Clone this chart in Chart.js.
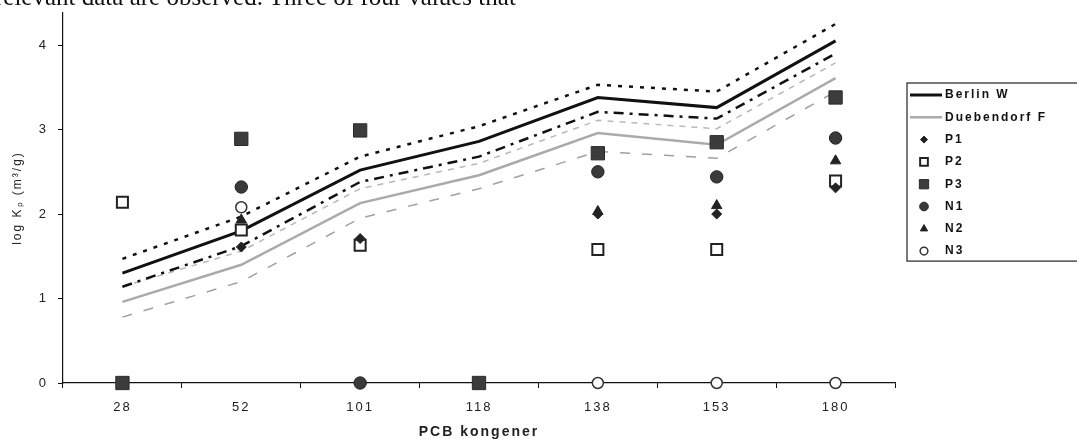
<!DOCTYPE html>
<html>
<head>
<meta charset="utf-8">
<script src="https://cdn.jsdelivr.net/npm/chart.js@4.4.1/dist/chart.umd.min.js"></script>
<style>
  html, body { margin: 0; padding: 0; background: #fff; overflow: hidden; }
  #wrap { position: relative; width: 1077px; height: 439px; }
  #caption { position: absolute; left: -5px; top: -16px; font: 25px 'Liberation Serif', serif; line-height: 25px; white-space: nowrap; color: #111; z-index: 2; }
  canvas { position: absolute; left: 0; top: 0; }
</style>
</head>
<body>
<div id="wrap">
  <div id="caption">relevant data are observed. Three of four values that</div>
  <canvas id="chart" width="1077" height="439"></canvas>
</div>
<script>
// PCB congeners on the x axis
const congeners = ['28', '52', '101', '118', '138', '153', '180'];

// model lines (log Kp) with their upper / lower bands
const berlinW      = [1.30, 1.80, 2.52, 2.86, 3.38, 3.26, 4.05];
const berlinUpper  = [1.47, 1.97, 2.68, 3.04, 3.53, 3.45, 4.25];
const berlinLower  = [1.14, 1.62, 2.38, 2.68, 3.21, 3.13, 3.90];
const duebendorfF  = [0.96, 1.40, 2.13, 2.46, 2.96, 2.82, 3.61];
const duebUpper    = [1.14, 1.56, 2.30, 2.60, 3.11, 3.01, 3.79];
const duebLower    = [0.78, 1.20, 1.95, 2.30, 2.74, 2.66, 3.45];

// measured values
const p1 = [null, 1.61, 1.71, null, 2.00, 2.00, 2.31];
const p2 = [2.14, 1.81, 1.63, null, 1.58, 1.58, 2.39];
const p3 = [0, 2.89, 2.99, 0, 2.72, 2.85, 3.38];
const n1 = [null, 2.32, 0, null, 2.50, 2.44, 2.90];
const n2 = [null, 1.93, null, null, 2.03, 2.10, 2.63];
const n3 = [null, 2.08, null, null, 0, 0, 0];

const yTicks = [0, 1, 2, 3, 4];
const legendNames = ['Berlin W', 'Duebendorf F', 'P1', 'P2', 'P3', 'N1', 'N2', 'N3'];

const font = 'Liberation Sans';

function lineSet(label, data, color, width, dash) {
    return {
        label: label, data: data, borderColor: color, borderWidth: width,
        borderDash: dash || [], pointRadius: 0, fill: false, tension: 0, order: 1
    };
}

function pointSet(label, data, style, radius, fill, border, bw) {
    return {
        label: label, data: data, showLine: false, pointStyle: style,
        pointRadius: radius, pointBackgroundColor: fill, pointBorderColor: border,
        pointBorderWidth: bw, clip: false, order: 0
    };
}

// the old figure has wide, spaced-out lettering
const wideText = {
    id: 'wideText',
    beforeUpdate(chart) { chart.ctx.letterSpacing = '2px'; },
    beforeDraw(chart) { chart.ctx.letterSpacing = '2px'; }
};

// boxed legend on the right, like the original figure
const boxLegend = {
    id: 'boxLegend',
    afterDraw(chart) {
        const ctx = chart.ctx;
        const area = chart.chartArea;
        const left = area.right + 12;
        const top = area.top + 70;
        const rowH = 22.3;
        ctx.save();
        ctx.strokeStyle = '#222';
        ctx.lineWidth = 1.2;
        ctx.strokeRect(left, top, 220, 12 + (legendNames.length - 1) * rowH + 10);
        ctx.font = 'bold 12px "' + font + '"';
        ctx.letterSpacing = '2px';
        ctx.textBaseline = 'middle';
        chart.data.datasets.forEach(ds => {
            const i = legendNames.indexOf(ds.label);
            if (i < 0) return;
            const y = top + 12 + i * rowH;
            if (ds.showLine !== false) {
                ctx.strokeStyle = ds.borderColor;
                ctx.lineWidth = ds.borderWidth;
                ctx.setLineDash([]);
                ctx.beginPath();
                ctx.moveTo(left + 3, y);
                ctx.lineTo(left + 35, y);
                ctx.stroke();
            } else {
                ctx.fillStyle = ds.pointBackgroundColor;
                ctx.strokeStyle = ds.pointBorderColor;
                ctx.lineWidth = ds.pointBorderWidth;
                Chart.helpers.drawPoint(ctx, {
                    pointStyle: ds.pointStyle, rotation: 0,
                    radius: ds.pointRadius * 0.7, borderWidth: ds.pointBorderWidth
                }, left + 17, y);
            }
            ctx.fillStyle = '#111';
            ctx.fillText(ds.label, left + 38, y);
        });
        ctx.restore();
    }
};

new Chart(document.getElementById('chart'), {
    type: 'line',
    data: {
        labels: congeners,
        datasets: [
            pointSet('P1', p1, 'rectRot', 5, '#222', '#222', 1),
            pointSet('P2', p2, 'rect', 7.8, '#fff', '#222', 2),
            pointSet('P3', p3, 'rect', 9.4, '#3c3c3c', '#2a2a2a', 1),
            pointSet('N1', n1, 'circle', 6.2, '#3a3a3a', '#222', 1),
            pointSet('N2', n2, 'triangle', 6, '#222', '#222', 1),
            pointSet('N3', n3, 'circle', 5.5, '#fff', '#333', 1.5),
            lineSet('Berlin W', berlinW, '#111', 3),
            lineSet('Berlin W upper', berlinUpper, '#111', 2.5, [4, 7]),
            lineSet('Berlin W lower', berlinLower, '#111', 2.5, [10, 6, 3, 6]),
            lineSet('Duebendorf F', duebendorfF, '#aaaaaa', 2.5),
            lineSet('Duebendorf F upper', duebUpper, '#b8b8b8', 1.5, [6, 6]),
            lineSet('Duebendorf F lower', duebLower, '#a0a0a0', 1.5, [10, 12])
        ]
    },
    options: {
        responsive: false,
        animation: false,
        layout: { padding: { left: 6, top: 13, right: 182, bottom: 0 } },
        plugins: { legend: { display: false }, tooltip: { enabled: false } },
        scales: {
            x: {
                offset: true,
                afterFit: scale => { scale.height = 56; },
                grid: { offset: true, drawOnChartArea: false, tickLength: 5, color: '#111' },
                border: { color: '#111', width: 1.2 },
                ticks: { color: '#222', padding: 12, font: { family: font, size: 13 } },
                title: {
                    display: true, text: 'PCB kongener', color: '#222',
                    font: { family: font, size: 14, weight: 'bold', lineHeight: 1 },
                    padding: { top: 9, bottom: 0 }
                }
            },
            y: {
                min: 0,
                max: 4.38,
                afterBuildTicks: scale => { scale.ticks = yTicks.map(v => ({ value: v })); },
                afterFit: scale => { scale.width = 57; scale.paddingTop = 0; scale.paddingBottom = 0; },
                grid: { drawOnChartArea: false, tickLength: 5, color: '#111' },
                border: { color: '#111', width: 1.2 },
                ticks: { color: '#222', padding: 10, font: { family: font, size: 13 } },
                title: {
                    display: true, text: 'log Kₚ (m³/g)', color: '#222',
                    font: { family: font, size: 12 }, padding: { top: 4, bottom: 14 }
                }
            }
        }
    },
    plugins: [wideText, boxLegend]
});
</script>
</body>
</html>
